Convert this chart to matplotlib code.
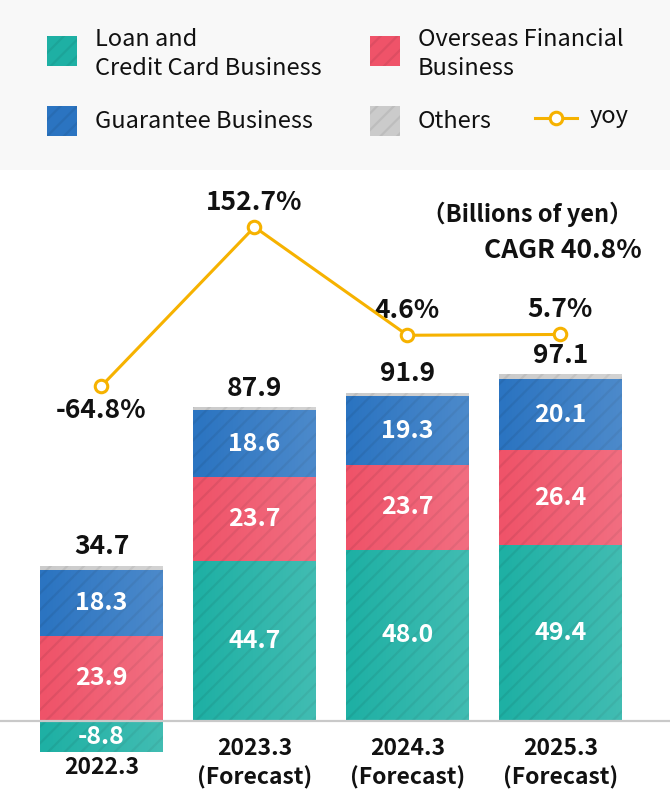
import matplotlib
matplotlib.use("Agg")
import matplotlib.pyplot as plt
from matplotlib.patches import Rectangle
from matplotlib.lines import Line2D
import matplotlib.colors as mcolors
import numpy as np

plt.rcParams['font.family'] = ['Noto Sans CJK JP', 'DejaVu Sans']
plt.rcParams['hatch.linewidth'] = 1.6

# ---------------- data ----------------
categories = ["2022.3", "2023.3\n(Forecast)", "2024.3\n(Forecast)", "2025.3\n(Forecast)"]
loan_credit = [-8.8, 44.7, 48.0, 49.4]
overseas = [23.9, 23.7, 23.7, 26.4]
guarantee = [18.3, 18.6, 19.3, 20.1]
others = [1.3, 0.9, 0.9, 1.2]
totals = [34.7, 87.9, 91.9, 97.1]
yoy = [-64.8, 152.7, 4.6, 5.7]
yoy_labels = ["-64.8%", "152.7%", "4.6%", "5.7%"]
series_names = ["Loan and\nCredit Card Business", "Overseas Financial\nBusiness",
                "Guarantee Business", "Others"]

C_TEAL = "#1eb0a4"
C_RED = "#ef5369"
C_BLUE = "#2b74c1"
C_GRAY = "#cbcbcb"
C_YOY = "#f6b200"

def darker(c, f=0.93):
    r, g, b = mcolors.to_rgb(c)
    return (r * f, g * f, b * f)

W, H = 670, 795
fig = plt.figure(figsize=(W / 100, H / 100), dpi=100)
fig.patch.set_facecolor("white")

# ---------------- legend band ----------------
BAND = 170
lax = fig.add_axes([0, 1 - BAND / H, 1, BAND / H])
lax.set_xlim(0, W)
lax.set_ylim(BAND, 0)
lax.set_facecolor("#f8f8f8")
for s in lax.spines.values():
    s.set_visible(False)
lax.set_xticks([])
lax.set_yticks([])

leg_items = [(47, 36, C_TEAL, series_names[0]), (370, 36, C_RED, series_names[1]),
             (47, 106, C_BLUE, series_names[2]), (370, 106, C_GRAY, series_names[3])]
for x0, y0, c, name in leg_items:
    lax.add_patch(Rectangle((x0, y0), 30, 30, facecolor=c, edgecolor=darker(c),
                            linewidth=0, hatch="//"))
    ty = y0 + 18 if "\n" in name else y0 + 15
    lax.text(x0 + 48, ty, name, fontsize=17, va="center", ha="left",
             color="#111111", linespacing=1.28)
lax.add_line(Line2D([535, 577], [118, 118], color=C_YOY, linewidth=2.2))
lax.plot([556], [118], marker="o", markersize=9, markerfacecolor="white",
         markeredgecolor=C_YOY, markeredgewidth=2.2)
lax.text(590, 116, "yoy", fontsize=17, va="center", ha="left", color="#111111")

# ---------------- main chart ----------------
ZERO_PX = 721
PX_PER_UNIT = 3.57
TOP_PX = BAND
ax = fig.add_axes([0, 0, 1, (H - TOP_PX) / H])
ax.set_facecolor("none")
x = np.arange(len(categories))
spacing = 153
ax.set_xlim(-101.5 / spacing, (W - 101.5) / spacing)
ax.set_ylim(-(H - ZERO_PX) / PX_PER_UNIT, (ZERO_PX - TOP_PX) / PX_PER_UNIT)
for s in ax.spines.values():
    s.set_visible(False)
ax.set_xticks([])
ax.set_yticks([])
bw = 123 / spacing

grad = np.linspace(0, 1, 64).reshape(1, -1)
white_grad = np.zeros((1, 64, 4))
white_grad[..., :3] = 1.0
white_grad[..., 3] = grad * 0.16

def draw_segment(xi, bottom, height, color, label=None):
    bars = ax.bar(xi, height, bw, bottom=bottom, color=color, edgecolor=darker(color),
                  linewidth=0, hatch="//", zorder=2)
    for b in bars:
        im = ax.imshow(white_grad, extent=(b.get_x(), b.get_x() + b.get_width(),
                                           b.get_y(), b.get_y() + b.get_height()),
                       aspect="auto", zorder=2.5, interpolation="bilinear")
        im.set_clip_path(b)
        if label is not None:
            ax.text(b.get_x() + b.get_width() / 2, b.get_y() + b.get_height() / 2, label,
                    ha="center", va="center", color="white", fontsize=18,
                    fontweight="bold", zorder=4)

for i in range(len(categories)):
    base = 0.0
    if loan_credit[i] < 0:
        draw_segment(x[i], loan_credit[i], -loan_credit[i] - 0.25, C_TEAL, f"{loan_credit[i]:.1f}")
    else:
        draw_segment(x[i], 0, loan_credit[i], C_TEAL, f"{loan_credit[i]:.1f}")
        base = loan_credit[i]
    draw_segment(x[i], base, overseas[i], C_RED, f"{overseas[i]:.1f}")
    base += overseas[i]
    draw_segment(x[i], base, guarantee[i], C_BLUE, f"{guarantee[i]:.1f}")
    base += guarantee[i]
    draw_segment(x[i], base, others[i], C_GRAY)
    base += others[i]
    ax.annotate(f"{totals[i]:.1f}", (x[i], base), xytext=(0, 19), textcoords="offset pixels",
                ha="center", va="center", fontsize=19, fontweight="bold",
                color="#111111", zorder=5)

ax.axhline(0, color="#c9c9c9", linewidth=1.6, zorder=3)

def px_to_data(py):
    return (ZERO_PX - py) / PX_PER_UNIT

# category labels
for i, cat in enumerate(categories):
    if loan_credit[i] < 0:
        ax.text(x[i], px_to_data(768), cat, ha="center", va="center", fontsize=16.5,
                fontweight="bold", color="#111111")
    else:
        ax.text(x[i], px_to_data(763), cat, ha="center", va="center", fontsize=16.5,
                fontweight="bold", color="#111111", linespacing=1.3)

# unit & CAGR
fig.text(633 / W, 1 - 214 / H, "（Billions of yen）", ha="right", va="center",
         fontsize=17, fontweight="bold", color="#111111")
fig.text(642 / W, 1 - 250 / H, "CAGR 40.8%", ha="right", va="center",
         fontsize=19, fontweight="bold", color="#111111")

# ---------------- yoy line ----------------
ax2 = ax.twinx()
YOY_PX_TOP = 227
YOY_VAL_TOP = 152.7
YOY_PX_PER_UNIT = 0.731
ax2.set_ylim(YOY_VAL_TOP - (H - YOY_PX_TOP) / YOY_PX_PER_UNIT,
             YOY_VAL_TOP + (YOY_PX_TOP - TOP_PX) / YOY_PX_PER_UNIT)
ax2.set_xlim(ax.get_xlim())
for s in ax2.spines.values():
    s.set_visible(False)
ax2.set_yticks([])
ax2.plot(x, yoy, color=C_YOY, linewidth=2.2, marker="o", markersize=9,
         markerfacecolor="white", markeredgecolor=C_YOY, markeredgewidth=2.2, zorder=5)
for i, (v, lab) in enumerate(zip(yoy, yoy_labels)):
    off = -25 if v < 0 else 25
    ax2.annotate(lab, (x[i], v), xytext=(0, off), textcoords="offset pixels",
                 ha="center", va="center", fontsize=19, fontweight="bold", color="#111111")

fig.savefig("out.png", dpi=100)
